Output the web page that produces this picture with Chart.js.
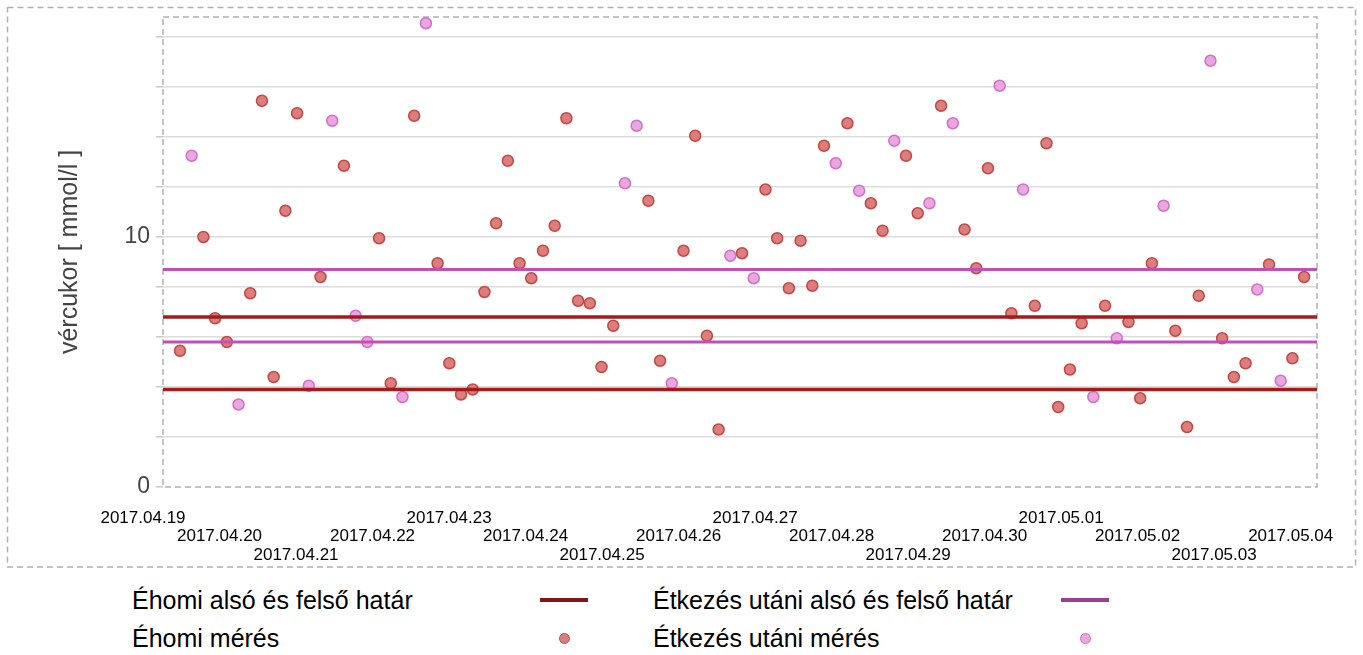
<!DOCTYPE html>
<html>
<head>
<meta charset="utf-8">
<script src="https://cdn.jsdelivr.net/npm/chart.js@4"></script>
<style>
  body { margin: 0; background: #fff; font-family: "Liberation Sans", Arial, sans-serif; }
  #wrap { position: relative; width: 1363px; height: 655px; }
  #chartBox { position: absolute; left: 0; top: 0; width: 1363px; height: 575px; }
  #legend { position: absolute; left: 132px; top: 581px; display: grid; grid-template-columns: 521px 520px; }
  .item { display: flex; align-items: center; height: 38px; font-size: 25px; color: #000; }
  .item .txt { width: 408px; white-space: nowrap; }
  .item .sym { width: 48px; display: flex; justify-content: center; align-items: center; }
</style>
</head>
<body>
<div id="wrap">
  <div id="chartBox"><canvas id="chart"></canvas></div>
  <div id="legend"></div>
</div>
<script>
// measurements in time order (mmol/l), F = fasting (éhomi), M = after meal (étkezés utáni)
const glucose = [
  5.45, 13.25, 10.0, 6.75, 5.8, 3.3, 7.75, 15.45, 4.4, 11.05,
  14.95, 4.05, 8.4, 14.65, 12.85, 6.85, 5.8, 9.95, 4.15, 3.6,
  14.85, 18.55, 8.95, 4.95, 3.7, 3.9, 7.8, 10.55, 13.05, 8.95,
  8.35, 9.45, 10.45, 14.75, 7.45, 7.35, 4.8, 6.45, 12.15, 14.45,
  11.45, 5.05, 4.15, 9.45, 14.05, 6.05, 2.3, 9.25, 9.35, 8.35,
  11.9, 9.95, 7.95, 9.85, 8.05, 13.65, 12.95, 14.55, 11.85, 11.35,
  10.25, 13.85, 13.25, 10.95, 11.35, 15.25, 14.55, 10.3, 8.75, 12.75,
  16.05, 6.95, 11.9, 7.25, 13.75, 3.2, 4.7, 6.55, 3.6, 7.25,
  5.95, 6.6, 3.55, 8.95, 11.25, 6.25, 2.4, 7.65, 17.05, 5.95,
  4.4, 4.95, 7.9, 8.9, 4.25, 5.15, 8.4
];
const kind = [
  'F','M','F','F','F','M','F','F','F','F',
  'F','M','F','M','F','M','M','F','F','M',
  'F','M','F','F','F','F','F','F','F','F',
  'F','F','F','F','F','F','F','F','M','M',
  'F','F','M','F','F','F','F','M','F','M',
  'F','F','F','F','F','F','M','F','M','F',
  'F','M','F','F','M','F','M','F','F','F',
  'M','F','M','F','F','F','F','F','M','F',
  'M','F','F','F','M','F','F','F','M','F',
  'F','F','M','F','M','F','F'
];
const dayLabels = [
  '2017.04.19', '2017.04.20', '2017.04.21', '2017.04.22', '2017.04.23', '2017.04.24',
  '2017.04.25', '2017.04.26', '2017.04.27', '2017.04.28', '2017.04.29', '2017.04.30',
  '2017.05.01', '2017.05.02', '2017.05.03', '2017.05.04'
];
const labelRow = [0, 1, 2, 1]; // staggered rows of the date labels
const fastingLimits = [3.9, 6.8];
const mealLimits = [5.8, 8.7];
const yGrid = [0, 2, 4, 6, 8, 10, 12, 14, 16, 18];
const yLabels = [0, 10];

const xMin = -1.45, xMax = 97.1;   // measurement index range shown
const perDay = 6.534;              // measurements per day width on the axis

const RED_LINE = '#a31c1c', PINK_LINE = '#c150b4';
const RED_PT = '#dc7e7c', RED_PT_BORDER = '#c24846';
const PINK_PT = '#eaa6e0', PINK_PT_BORDER = '#cf72c6';

function pointsOf(k) {
  const out = [];
  glucose.forEach((v, i) => { if (kind[i] === k) out.push({ x: i, y: v }); });
  return out;
}
function limitLine(lims) {
  return [
    { x: xMin, y: lims[0] }, { x: xMax, y: lims[0] }, { x: xMax, y: null },
    { x: xMin, y: lims[1] }, { x: xMax, y: lims[1] }
  ];
}

const frames = {
  id: 'frames',
  beforeDraw(chart) {
    const ctx = chart.ctx;
    ctx.save();
    ctx.setLineDash([6, 4]);
    ctx.strokeStyle = '#b0b0b0';
    ctx.lineWidth = 1.5;
    ctx.strokeRect(7.5, 7.5, 1348, 559.5);
    ctx.restore();
  },
  beforeDatasetsDraw(chart) {
    const a = chart.chartArea, ctx = chart.ctx;
    ctx.save();
    ctx.setLineDash([6, 4]);
    ctx.strokeStyle = '#b0b0b0';
    ctx.lineWidth = 1.5;
    ctx.strokeRect(a.left, a.top, a.right - a.left, a.bottom - a.top);
    ctx.restore();
  }
};

const chart = new Chart(document.getElementById('chart'), {
  type: 'scatter',
  data: {
    datasets: [
      {
        label: 'Éhomi alsó és felső határ',
        data: limitLine(fastingLimits),
        showLine: true, spanGaps: false,
        borderColor: RED_LINE, backgroundColor: RED_LINE,
        borderWidth: 3.5, pointRadius: 0
      },
      {
        label: 'Étkezés utáni alsó és felső határ',
        data: limitLine(mealLimits),
        showLine: true, spanGaps: false,
        borderColor: PINK_LINE, backgroundColor: PINK_LINE,
        borderWidth: 3, pointRadius: 0
      },
      {
        label: 'Éhomi mérés',
        data: pointsOf('F'),
        backgroundColor: RED_PT, borderColor: RED_PT_BORDER,
        borderWidth: 1.5, pointRadius: 5.5
      },
      {
        label: 'Étkezés utáni mérés',
        data: pointsOf('M'),
        backgroundColor: PINK_PT, borderColor: PINK_PT_BORDER,
        borderWidth: 1.5, pointRadius: 5.5
      }
    ]
  },
  options: {
    responsive: true,
    maintainAspectRatio: false,
    animation: false,
    layout: { padding: { top: 17, right: 46, left: 0, bottom: 0 } },
    plugins: { legend: { display: false }, tooltip: { enabled: false } },
    scales: {
      x: {
        type: 'linear',
        min: xMin,
        max: xMax,
        grid: { display: false, drawTicks: false },
        border: { display: false },
        afterBuildTicks: s => { s.ticks = dayLabels.map((d, k) => ({ value: xMin + k * perDay })); },
        afterFit: s => { s.height = 88; s.paddingLeft = 0; s.paddingRight = 0; },
        ticks: {
          autoSkip: false,
          maxRotation: 0,
          minRotation: 0,
          padding: 22,
          labelOffset: -20,
          color: '#000',
          font: { family: '"Liberation Sans", Arial, sans-serif', size: 17, lineHeight: 1.09 },
          callback: (v, i) => {
            const lines = [];
            for (let r = 0; r < labelRow[i % 4]; r++) lines.push('');
            lines.push(dayLabels[i]);
            return lines;
          }
        }
      },
      y: {
        min: 0,
        max: 18.8,
        afterBuildTicks: s => { s.ticks = yGrid.map(v => ({ value: v })); },
        afterFit: s => { s.width = 163; s.paddingTop = 0; s.paddingBottom = 0; },
        border: { display: false },
        grid: {
          color: c => (c.tick && c.tick.value === 0) ? 'rgba(0,0,0,0)' : '#dcdcdc',
          tickColor: '#c8c8c8',
          lineWidth: 1.5,
          tickLength: 7
        },
        ticks: {
          padding: 6,
          color: '#444',
          font: { family: '"Liberation Sans", Arial, sans-serif', size: 23 },
          callback: v => yLabels.includes(v) ? String(v) : ''
        },
        title: {
          display: true,
          text: 'vércukor [ mmol/l ]',
          color: '#444',
          font: { family: '"Liberation Sans", Arial, sans-serif', size: 25 },
          padding: { top: 55, bottom: 0 }
        }
      }
    }
  },
  plugins: [frames]
});

// legend: label first, then its symbol, two columns
const legend = document.getElementById('legend');
chart.data.datasets.forEach(ds => {
  const item = document.createElement('div');
  item.className = 'item';
  const txt = document.createElement('span');
  txt.className = 'txt';
  txt.textContent = ds.label;
  const sym = document.createElement('span');
  sym.className = 'sym';
  const mark = document.createElement('span');
  if (ds.showLine) {
    mark.style.cssText = `display:block;width:48px;height:4px;background:${ds.borderColor};filter:brightness(0.8);`;
  } else {
    mark.style.cssText = `display:block;width:9px;height:9px;border-radius:50%;background:${ds.backgroundColor};border:1.5px solid ${ds.borderColor};`;
  }
  sym.appendChild(mark);
  item.appendChild(txt);
  item.appendChild(sym);
  legend.appendChild(item);
});
</script>
</body>
</html>
